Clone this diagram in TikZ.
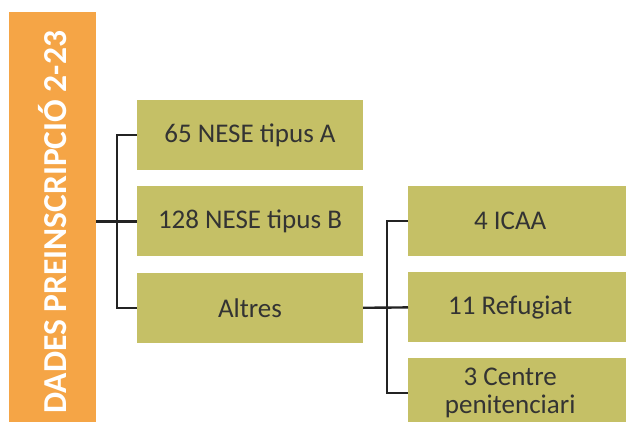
\documentclass[tikz,border=0pt]{standalone}
\usepackage{fontspec}
\setmainfont{Carlito}
\usetikzlibrary{positioning}

\definecolor{barorange}{RGB}{245,165,70}
\definecolor{boxolive}{RGB}{197,192,102}
\definecolor{linkgray}{RGB}{35,35,35}

% text of a right hand box, centred in its visible part
\newcommand{\leaftext}[1]{\parbox{204pt}{\centering #1}\hspace*{28pt}}

\tikzset{
  catbox/.style={fill=boxolive, text=black!80, minimum height=70pt, inner sep=0pt,
    align=center, font=\fontsize{27}{28}\selectfont},
  link/.style={draw=linkgray, line width=2.4pt},
}

\begin{document}
\begin{tikzpicture}[x=1pt,y=-1pt]
  \useasboundingbox[fill=white] (0,0) rectangle (626,422);

  % orange title bar
  \node[fill=barorange, minimum width=87pt, minimum height=420pt, inner sep=0pt,
    anchor=north west] (bar) at (9,12) {};
  \node[rotate=90, text=white, font=\bfseries\fontsize{33.5}{36}\selectfont] (title)
    at (bar.center) {DADES PREINSCRIPCIÓ 2-23};

  % first level
  \node[catbox, minimum width=226pt] (b1) at (250,135) {65 NESE tipus A};
  \node[catbox, minimum width=226pt, below=16pt of b1] (b2) {128 NESE tipus B};
  \node[catbox, minimum width=226pt, below=16pt of b2] (b3) {Altres};

  % second level
  \node[catbox, minimum width=232pt, anchor=west] (c1) at (408,221) {\leaftext{4 ICAA}};
  \node[catbox, minimum width=232pt, below=16pt of c1] (c2) {\leaftext{11 Refugiat}};
  \node[catbox, minimum width=232pt, below=15pt of c2] (c3) {\leaftext{3 Centre\\penitenciari}};

  % connectors
  \coordinate (jA) at (117,0);
  \coordinate (jB) at (387,0);
  \draw[link] (bar.east |- b2.west) -- (b2.west);
  \draw[link] (b1.west) -| (jA |- b3.west) -- (b3.west);
  \draw[link] (b3.east) -- (c2.west);
  \draw[link] (c1.west) -| (jB |- c3.west) -- (c3.west);
\end{tikzpicture}
\end{document}
